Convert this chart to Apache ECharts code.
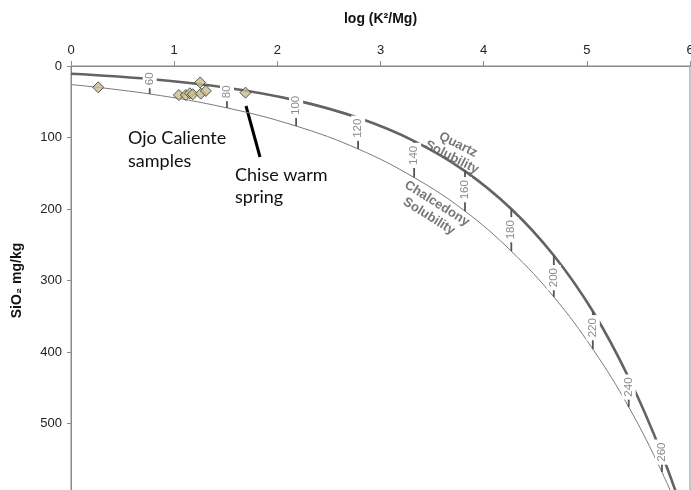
<!DOCTYPE html>
<html>
<head>
<meta charset="utf-8">
<script src="https://cdn.jsdelivr.net/npm/echarts@6/dist/echarts.min.js"></script>
<style>
html, body { margin: 0; padding: 0; background: #fff; }
#main { width: 691px; height: 490px; }
</style>
</head>
<body>
<div id="main"></div>
<script>
var myChart = echarts.init(document.getElementById('main'));

// temperature steps along the two solubility curves (deg C)
var tempC = [42, 60, 80, 100, 120, 140, 160, 180, 200, 220, 240, 260, 280];
var logK2Mg = [0, 0.763, 1.512, 2.182, 2.783, 3.326, 3.819, 4.268, 4.680, 5.058, 5.406, 5.728, 6.028];
var quartzSiO2 = [10.8, 18.2, 30.4, 48.1, 72.5, 105, 147, 200, 265, 343, 436, 543, 666];
var chalcSiO2 = [25.9, 39.1, 58.6, 84.0, 116, 156, 203, 259, 323, 396, 477, 568, 667];
// where each temperature label sits (SiO2 value), null = no label
var labelSiO2 = [null, 18, 36, 55, 87, 125, 173, 229, 296, 366, 449, 540, null];

// samples
var ojoX = [0.264, 1.045, 1.113, 1.152, 1.180, 1.252, 1.258, 1.307];
var ojoY = [29.8, 40.6, 40.6, 38.2, 39.5, 23.0, 38.6, 34.8];
var chiseX = [1.691];
var chiseY = [37.3];

var xTicks = [0, 1, 2, 3, 4, 5, 6];
var yTicks = [0, 100, 200, 300, 400, 500, 600];

function zip(a, b) {
	var out = [];
	for (var i = 0; i < a.length; i++) out.push([a[i], b[i]]);
	return out;
}

var markers = [];
for (var i = 0; i < tempC.length; i++) {
	if (labelSiO2[i] == null) continue;
	markers.push([logK2Mg[i], quartzSiO2[i], chalcSiO2[i], labelSiO2[i], tempC[i]]);
}

var diamond = {
	color: '#c7bd8e',
	borderColor: '#333',
	borderWidth: 1
};

var option = {
	animation: false,
	backgroundColor: '#fff',
	textStyle: { fontFamily: 'Arial, "Liberation Sans", sans-serif' },
	grid: {
		left: 71,
		right: 1,
		top: 66,
		height: 429,
		outerBoundsMode: 'none',
		containLabel: false,
		show: true,
		borderColor: '#8a8a8a',
		borderWidth: 1
	},
	xAxis: {
		type: 'value',
		position: 'top',
		min: xTicks[0],
		max: xTicks[xTicks.length - 1],
		interval: 1,
		name: 'log (K²/Mg)',
		nameLocation: 'middle',
		nameGap: 40,
		nameTextStyle: { fontWeight: 'bold', fontSize: 14, color: '#111' },
		axisLine: { onZero: false, lineStyle: { color: '#8a8a8a' } },
		axisTick: { length: 5, lineStyle: { color: '#8a8a8a' } },
		axisLabel: { fontSize: 13, color: '#222', margin: 9 },
		splitLine: { show: false }
	},
	yAxis: {
		type: 'value',
		inverse: true,
		min: yTicks[0],
		max: yTicks[yTicks.length - 1],
		interval: 100,
		name: 'SiO₂ mg/kg',
		nameLocation: 'middle',
		nameGap: 47,
		nameTextStyle: { fontWeight: 'bold', fontSize: 14, color: '#111' },
		axisLine: { show: true, onZero: false, lineStyle: { color: '#8a8a8a' } },
		axisTick: { show: true, length: 4, lineStyle: { color: '#8a8a8a' } },
		axisLabel: { fontSize: 13, color: '#222', margin: 9 },
		splitLine: { show: false }
	},
	series: [{
			name: 'Quartz',
			type: 'line',
			data: zip(logK2Mg, quartzSiO2),
			showSymbol: false,
			smooth: 0.4,
			lineStyle: { color: '#636363', width: 2.6 },
			z: 2
		},
		{
			name: 'Chalcedony',
			type: 'line',
			data: zip(logK2Mg, chalcSiO2),
			showSymbol: false,
			smooth: 0.4,
			lineStyle: { color: '#7a7a7a', width: 1 },
			z: 2
		},
		{
			name: 'temps',
			type: 'custom',
			data: markers,
			encode: { x: 0, y: [1, 2, 3] },
			z: 4,
			renderItem: function(params, api) {
				var x = api.value(0);
				var t = String(api.value(4));
				var p1 = api.coord([x, api.value(1)]);
				var p2 = api.coord([x, api.value(2)]);
				var pl = api.coord([x, api.value(3)]);
				// white box behind the label hides the curves there
				var h = t.length * 6.4 + 6;
				return {
					type: 'group',
					children: [{
						type: 'line',
						shape: { x1: p1[0], y1: p1[1], x2: p2[0], y2: p2[1] },
						style: { stroke: '#555', lineWidth: 1.8 }
					}, {
						type: 'rect',
						shape: { x: pl[0] - 7, y: pl[1] - h / 2, width: 14, height: h },
						style: { fill: '#fff' }
					}, {
						type: 'text',
						x: pl[0],
						y: pl[1],
						rotation: Math.PI / 2,
						style: {
							text: t,
							fill: '#8c8c8c',
							fontSize: 11.5,
							fontFamily: 'Arial, "Liberation Sans", sans-serif',
							align: 'center',
							verticalAlign: 'middle'
						}
					}]
				};
			}
		},
		{
			name: 'Ojo Caliente samples',
			type: 'scatter',
			symbol: 'diamond',
			symbolSize: 11,
			itemStyle: diamond,
			data: zip(ojoX, ojoY),
			z: 10
		},
		{
			name: 'Chise warm spring',
			type: 'scatter',
			symbol: 'diamond',
			symbolSize: 11,
			itemStyle: diamond,
			data: zip(chiseX, chiseY),
			z: 10
		}
	],
	graphic: [{
			type: 'text',
			x: 128,
			y: 150,
			style: {
				text: 'Ojo Caliente\nsamples',
				font: '18px Lato, "Open Sans", sans-serif',
				lineHeight: 23,
				fill: '#111',
				verticalAlign: 'middle'
			}
		},
		{
			type: 'text',
			x: 235,
			y: 186,
			style: {
				text: 'Chise warm\nspring',
				font: '18px Lato, "Open Sans", sans-serif',
				lineHeight: 22,
				fill: '#111',
				verticalAlign: 'middle'
			}
		},
		{
			type: 'line',
			shape: { x1: 246, y1: 106, x2: 260, y2: 157 },
			style: { stroke: '#000', lineWidth: 3 }
		},
		{
			type: 'text',
			x: 455,
			y: 151,
			rotation: -0.47,
			style: {
				text: 'Quartz\nSolubility',
				font: 'bold 13px Arial, "Liberation Sans", sans-serif',
				lineHeight: 14,
				fill: '#777',
				align: 'center',
				verticalAlign: 'middle'
			}
		},
		{
			type: 'text',
			x: 433,
			y: 210,
			rotation: -0.56,
			style: {
				text: 'Chalcedony\nSolubility',
				font: 'bold 13px Arial, "Liberation Sans", sans-serif',
				lineHeight: 15,
				fill: '#777',
				align: 'center',
				verticalAlign: 'middle'
			}
		}
	]
};

myChart.setOption(option);
</script>
</body>
</html>
